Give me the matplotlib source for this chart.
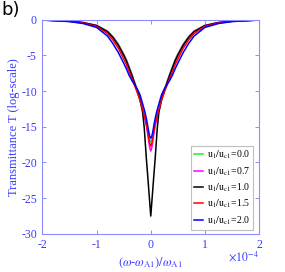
"""
Transmittance dip vs normalised detuning, panel b).
"""
import matplotlib

matplotlib.use("Agg")
import matplotlib.pyplot as plt  # noqa: E402
import numpy as np  # noqa: E402

# detuning (units of 1e-4), one half of the symmetric curves
x_half = [0, 0.02, 0.04, 0.06, 0.08, 0.1, 0.12, 0.15, 0.2, 0.25, 0.3, 0.35,
          0.4, 0.45, 0.5, 0.6, 0.7, 0.8, 1.0, 1.25, 1.5, 2.0]

t_00 = [-17.1, -16.8, -16.1, -15.2, -14.5, -13.9, -13.3, -12.5, -11.0, -9.8, -8.7, -7.6,
        -6.6, -5.6, -4.8, -3.4, -2.35, -1.6, -0.8, -0.4, -0.2, -0.05]
t_07 = [-18.4, -17.9, -16.9, -15.8, -14.9, -14.2, -13.5, -12.6, -11.1, -9.9, -8.8, -7.7,
        -6.7, -5.7, -4.9, -3.5, -2.45, -1.65, -0.82, -0.42, -0.22, -0.05]
t_10 = [-27.5, -25.5, -23.5, -21.5, -19.6, -17.4, -15.2, -13.0, -11.2, -10.0, -8.9, -7.8,
        -6.8, -5.8, -5.0, -3.6, -2.5, -1.7, -0.85, -0.43, -0.22, -0.05]
t_15 = [-17.7, -17.3, -16.5, -15.5, -14.7, -14.0, -13.4, -12.6, -11.3, -10.2, -9.2, -8.2,
        -7.3, -6.3, -5.5, -4.0, -2.85, -1.95, -0.95, -0.48, -0.25, -0.06]
t_20 = [-16.6, -16.3, -15.6, -14.7, -13.9, -13.2, -12.6, -11.8, -10.5, -9.7, -9.1, -8.5,
        -7.8, -6.9, -6.1, -4.6, -3.35, -2.3, -1.1, -0.55, -0.28, -0.07]

ratios = ["0.0", "0.7", "1.0", "1.5", "2.0"]
series = [t_00, t_07, t_10, t_15, t_20]
colors = ["#22ee22", "#ff00ff", "#000000", "#ff0000", "#0000ff"]

xticks = [-2, -1, 0, 1, 2]
yticks = [0, -5, -10, -15, -20, -25, -30]

axis_col = "#8c8cff"
text_col = "#3a3aff"

plt.rcParams["font.family"] = ["Liberation Serif", "DejaVu Serif"]
plt.rcParams["mathtext.fontset"] = "stix"


def mirror(xs, ys):
    xs = np.asarray(xs, dtype=float)
    ys = np.asarray(ys, dtype=float)
    return (np.concatenate([-xs[:0:-1], xs]), np.concatenate([ys[:0:-1], ys]))


fig = plt.figure(figsize=(2.85, 2.72), dpi=100)
ax = fig.add_axes((0.149, 0.140, 0.760, 0.788))

for r, ys, c in zip(ratios, series, colors):
    xx, yy = mirror(x_half, ys)
    ax.plot(xx, yy, color=c, lw=1.1, label=r"$\mathrm{u_1/u_{c1}}$=" + r)

ax.set_xlim(-2, 2)
ax.set_ylim(-30, 0)
ax.set_xticks(xticks)
ax.set_yticks(yticks)
ax.set_xticklabels([str(v) for v in xticks])
ax.set_yticklabels([str(v) for v in yticks])
ax.tick_params(direction="in", top=True, right=True, length=3, width=0.7,
               color=axis_col, labelcolor=text_col, labelsize=8.5, pad=4)
for sp in ax.spines.values():
    sp.set_color(axis_col)
    sp.set_linewidth(0.8)

ax.set_ylabel("Transmittance T (log-scale)", color=text_col, fontsize=9, labelpad=1)
ax.set_xlabel(r"$(\omega$-$\omega_{\rm A1})/\omega_{\rm A1}$", color=text_col,
              fontsize=9, labelpad=3)
ax.text(1.0, -0.075, r"$\times10^{-4}$", transform=ax.transAxes, ha="right", va="top",
        color=text_col, fontsize=8.5)

leg = ax.legend(loc="lower right", fontsize=7, frameon=True, fancybox=False,
                handlelength=0.9, handletextpad=0.35, borderpad=0.3, labelspacing=0.4,
                borderaxespad=0.0, bbox_to_anchor=(0.97, 0.02))
leg.get_frame().set_edgecolor("#b0b0b0")
leg.get_frame().set_linewidth(0.8)

fig.text(0.005, 0.995, "b)", ha="left", va="top", fontsize=13, family="DejaVu Sans")

fig.savefig("out.png", dpi=100)
